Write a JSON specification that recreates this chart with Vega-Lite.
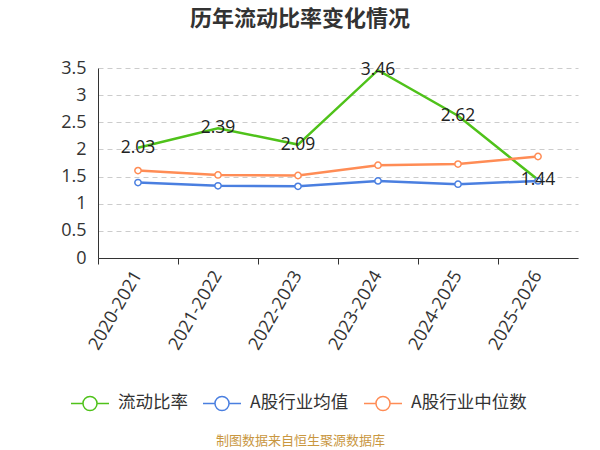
{
  "$schema": "https://vega.github.io/schema/vega-lite/v6.json",
  "width": 480,
  "height": 190,
  "autosize": {"type": "none"},
  "padding": {"left": 98, "top": 68, "right": 22, "bottom": 192},
  "background": "white",
  "config": {
    "view": {"stroke": null},
    "font": "Open Sans, Noto Sans CJK SC, sans-serif"
  },
  "title": {
    "text": "历年流动比率变化情况",
    "fontSize": 22,
    "fontWeight": "bold",
    "color": "#333333",
    "font": "Noto Sans CJK SC",
    "anchor": "middle",
    "dx": -38,
    "offset": 28
  },
  "data": {
    "values": [
      {"year": "2020-2021", "series": "流动比率", "value": 2.03},
      {"year": "2021-2022", "series": "流动比率", "value": 2.39},
      {"year": "2022-2023", "series": "流动比率", "value": 2.09},
      {"year": "2023-2024", "series": "流动比率", "value": 3.46},
      {"year": "2024-2025", "series": "流动比率", "value": 2.62},
      {"year": "2025-2026", "series": "流动比率", "value": 1.44},
      {"year": "2020-2021", "series": "A股行业均值", "value": 1.39},
      {"year": "2021-2022", "series": "A股行业均值", "value": 1.33},
      {"year": "2022-2023", "series": "A股行业均值", "value": 1.32},
      {"year": "2023-2024", "series": "A股行业均值", "value": 1.42},
      {"year": "2024-2025", "series": "A股行业均值", "value": 1.36},
      {"year": "2025-2026", "series": "A股行业均值", "value": 1.42},
      {"year": "2020-2021", "series": "A股行业中位数", "value": 1.61},
      {"year": "2021-2022", "series": "A股行业中位数", "value": 1.53},
      {"year": "2022-2023", "series": "A股行业中位数", "value": 1.52},
      {"year": "2023-2024", "series": "A股行业中位数", "value": 1.71},
      {"year": "2024-2025", "series": "A股行业中位数", "value": 1.73},
      {"year": "2025-2026", "series": "A股行业中位数", "value": 1.87}
    ]
  },
  "encoding": {
    "x": {
      "field": "year",
      "type": "ordinal",
      "scale": {"type": "band", "paddingInner": 0, "paddingOuter": 0},
      "axis": {
        "title": "制图数据来自恒生聚源数据库",
        "titleColor": "#c9973f",
        "titleFontSize": 13,
        "titleFontWeight": "normal",
        "titleFont": "Noto Sans CJK SC",
        "titleX": 202,
        "titleY": 182,
        "titleAlign": "center",
        "titleBaseline": "middle",
        "bandPosition": 0,
        "labelAngle": -60,
        "labelAlign": "right",
        "labelBaseline": "middle",
        "labelFontSize": 18,
        "labelColor": "#333333",
        "labelPadding": 8,
        "domainColor": "#333333",
        "tickColor": "#333333",
        "tickSize": 6,
        "grid": false
      }
    },
    "y": {
      "field": "value",
      "type": "quantitative",
      "scale": {"domain": [0, 3.5]},
      "axis": {
        "title": null,
        "values": [0, 0.5, 1, 1.5, 2, 2.5, 3, 3.5],
        "format": "~g",
        "ticks": false,
        "labelPadding": 12,
        "labelFontSize": 18,
        "labelColor": "#333333",
        "domainColor": "#333333",
        "gridColor": "#cccccc",
        "gridDash": [5, 4]
      }
    },
    "color": {
      "field": "series",
      "type": "nominal",
      "scale": {
        "domain": ["流动比率", "A股行业均值", "A股行业中位数"],
        "range": ["#4fc21a", "#4a7fe0", "#ff8c55"]
      },
      "legend": {
        "title": null,
        "orient": "none",
        "direction": "horizontal",
        "legendX": -28,
        "legendY": 315,
        "symbolType": "M-1,0L-0.37,0M0.37,0L1,0M0.37,0A0.37,0.37,0,1,1,-0.37,0A0.37,0.37,0,1,1,0.37,0",
        "symbolSize": 1444,
        "symbolFillColor": "white",
        "symbolStrokeWidth": 1.5,
        "labelFontSize": 17.5,
        "labelColor": "#333333",
        "labelFont": "Noto Sans CJK SC",
        "labelOffset": 8,
        "columnPadding": 12
      }
    }
  },
  "layer": [
    {
      "mark": {"type": "line", "strokeWidth": 2.5},
      "encoding": {}
    },
    {
      "transform": [{"filter": "datum.series !== '流动比率'"}],
      "mark": {"type": "point", "filled": false, "fill": "white", "size": 40, "strokeWidth": 1.5, "opacity": 1}
    },
    {
      "transform": [{"filter": "datum.series === '流动比率'"}],
      "mark": {"type": "text", "fontSize": 17.5, "color": "#222222"},
      "encoding": {
        "text": {"field": "value", "type": "quantitative", "format": ".2f"},
        "color": {"value": "#222222"}
      }
    }
  ]
}
